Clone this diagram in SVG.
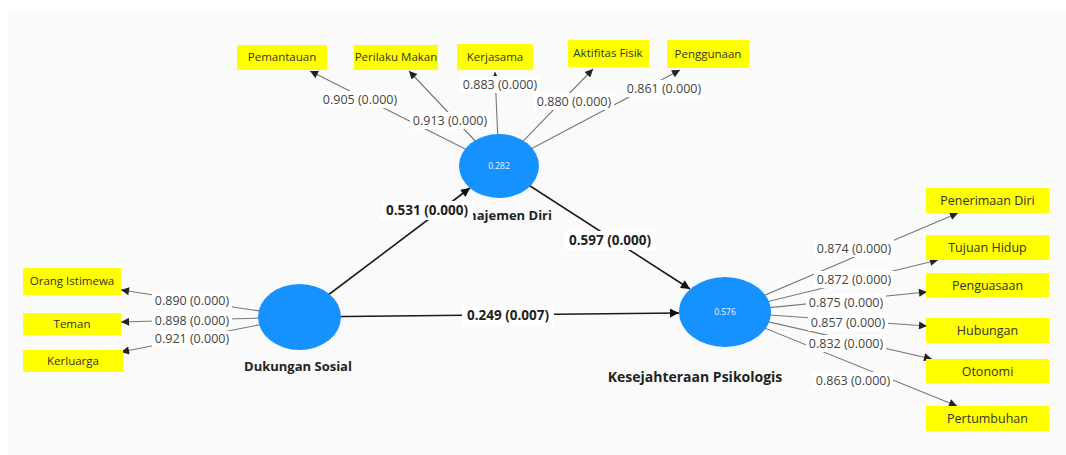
<svg xmlns="http://www.w3.org/2000/svg" width="1066" height="455" viewBox="0 0 1066 455">
<style>
.ind rect{fill:#ffff00}
.ind text{font-family:"Open Sans","Noto Sans",sans-serif;font-size:11.5px;fill:#333;text-anchor:middle}
.ind .lg{font-size:12.5px}
.lv ellipse{fill:#1592fd}
.lv .r2{font-family:"Open Sans","Noto Sans",sans-serif;font-size:8.5px;fill:#e8f2ff;text-anchor:middle}
.lv .nm{font-family:"Open Sans","Noto Sans",sans-serif;font-size:13px;font-weight:bold;fill:#222;text-anchor:middle}
.il{stroke:#777;stroke-width:1.1;fill:none;marker-end:url(#ah)}
.sl{stroke:#1a1a1a;stroke-width:1.6;fill:none;marker-end:url(#as)}
.lb rect{fill:#fff}
.lb text{font-family:"Open Sans","Noto Sans",sans-serif;font-size:12.5px;fill:#444;text-anchor:middle}
.lb .b{font-weight:bold;fill:#222;font-size:13.5px}
</style>
<defs>
<marker id="ah" viewBox="0 0 10 10" refX="10" refY="5" markerWidth="9" markerHeight="8" markerUnits="userSpaceOnUse" orient="auto"><path d="M0,0 L10,5 L0,10 z" fill="#222"/></marker>
<marker id="as" viewBox="0 0 10 10" refX="10" refY="5" markerWidth="11" markerHeight="9" markerUnits="userSpaceOnUse" orient="auto"><path d="M0,0 L10,5 L0,10 z" fill="#111"/></marker>
</defs>
<rect x="0" y="0" width="1066" height="455" fill="#fff"/>
<rect x="8" y="9" width="1058" height="446" fill="#fafafa"/>
<g id="connectors">
<line class="il" x1="499" y1="166" x2="310" y2="71"/>
<line class="il" x1="499" y1="166" x2="409" y2="71"/>
<line class="il" x1="499" y1="166" x2="495" y2="72"/>
<line class="il" x1="499" y1="166" x2="593" y2="69"/>
<line class="il" x1="499" y1="166" x2="680" y2="70"/>
<line class="il" x1="299" y1="317" x2="121" y2="290"/>
<line class="il" x1="299" y1="317" x2="121" y2="322"/>
<line class="il" x1="299" y1="317" x2="121" y2="352"/>
<line class="il" x1="725" y1="312" x2="958" y2="213"/>
<line class="il" x1="725" y1="312" x2="938" y2="260"/>
<line class="il" x1="725" y1="312" x2="927" y2="292"/>
<line class="il" x1="725" y1="312" x2="927" y2="326"/>
<line class="il" x1="725" y1="312" x2="932" y2="359"/>
<line class="il" x1="725" y1="312" x2="957" y2="406"/>
<line class="sl" x1="299" y1="317" x2="470" y2="188"/>
<line class="sl" x1="499" y1="166" x2="690" y2="289"/>
<line class="sl" x1="299" y1="317" x2="679" y2="313"/>
</g>
<g id="ind-pemantauan" class="ind"><rect x="237" y="45" width="90" height="25"/><text x="282" y="61">Pemantauan</text></g>
<g id="ind-perilaku-makan" class="ind"><rect x="354" y="45" width="84" height="25"/><text x="396" y="61">Perilaku Makan</text></g>
<g id="ind-kerjasama" class="ind"><rect x="457" y="44" width="76" height="26"/><text x="495" y="61">Kerjasama</text></g>
<g id="ind-aktifitas-fisik" class="ind"><rect x="568" y="40" width="81" height="27"/><text x="608" y="57">Aktifitas Fisik</text></g>
<g id="ind-penggunaan" class="ind"><rect x="667" y="40" width="82" height="28"/><text x="708" y="58">Penggunaan</text></g>
<g id="ind-orang-istimewa" class="ind"><rect x="23" y="268" width="98" height="27"/><text x="72" y="285">Orang Istimewa</text></g>
<g id="ind-teman" class="ind"><rect x="23" y="313" width="98" height="22"/><text x="72" y="328">Teman</text></g>
<g id="ind-kerluarga" class="ind"><rect x="23" y="350" width="100" height="22"/><text x="73" y="365">Kerluarga</text></g>
<g id="ind-penerimaan-diri" class="ind"><rect x="926" y="188" width="123" height="25"/><text class="lg" x="987.5" y="205">Penerimaan Diri</text></g>
<g id="ind-tujuan-hidup" class="ind"><rect x="926" y="235" width="123" height="25"/><text class="lg" x="987.5" y="252">Tujuan Hidup</text></g>
<g id="ind-penguasaan" class="ind"><rect x="926" y="273" width="123" height="24"/><text class="lg" x="987.5" y="289.5">Penguasaan</text></g>
<g id="ind-hubungan" class="ind"><rect x="926" y="318" width="123" height="25"/><text class="lg" x="987.5" y="335">Hubungan</text></g>
<g id="ind-otonomi" class="ind"><rect x="926" y="359" width="123" height="24"/><text class="lg" x="987.5" y="375.5">Otonomi</text></g>
<g id="ind-pertumbuhan" class="ind"><rect x="926" y="406" width="123" height="25"/><text class="lg" x="987.5" y="423">Pertumbuhan</text></g>
<g id="lv-manajemen-diri" class="lv"><ellipse cx="499" cy="166" rx="40" ry="32"/><text class="r2" x="499" y="169">0.282</text><text class="nm" x="500" y="220">Manajemen Diri</text></g>
<g id="lv-dukungan-sosial" class="lv"><ellipse cx="299.5" cy="317" rx="41.5" ry="33"/><text class="nm" x="298" y="371">Dukungan Sosial</text></g>
<g id="lv-kesejahteraan-psikologis" class="lv"><ellipse cx="725" cy="312" rx="46" ry="35"/><text class="r2" x="725" y="315">0.576</text><text class="nm" x="695" y="382" style="font-size:14px">Kesejahteraan Psikologis</text></g>
<g id="edge-labels" class="lb">
<rect x="320" y="91" width="80" height="17"/><text x="360" y="104">0.905 (0.000)</text>
<rect x="410" y="112" width="80" height="17"/><text x="450" y="125">0.913 (0.000)</text>
<rect x="460" y="76" width="80" height="17"/><text x="500" y="89">0.883 (0.000)</text>
<rect x="534" y="93" width="80" height="17"/><text x="574" y="106">0.880 (0.000)</text>
<rect x="624" y="80" width="80" height="17"/><text x="664" y="93">0.861 (0.000)</text>
<rect x="152" y="293" width="80" height="16"/><text x="192" y="305">0.890 (0.000)</text>
<rect x="152" y="313" width="80" height="16"/><text x="192" y="325">0.898 (0.000)</text>
<rect x="152" y="331" width="80" height="16"/><text x="192" y="343">0.921 (0.000)</text>
<rect x="814" y="240" width="80" height="17"/><text x="854" y="253">0.874 (0.000)</text>
<rect x="814" y="271" width="80" height="17"/><text x="854" y="284">0.872 (0.000)</text>
<rect x="806" y="294" width="80" height="17"/><text x="846" y="307">0.875 (0.000)</text>
<rect x="808" y="314" width="80" height="17"/><text x="848" y="327">0.857 (0.000)</text>
<rect x="806" y="335" width="80" height="17"/><text x="846" y="348">0.832 (0.000)</text>
<rect x="813" y="372" width="80" height="17"/><text x="853" y="385">0.863 (0.000)</text>
<rect x="381" y="201" width="92" height="19"/><text class="b" x="427" y="215">0.531 (0.000)</text>
<rect x="564" y="231" width="92" height="19"/><text class="b" x="610" y="245">0.597 (0.000)</text>
<rect x="462" y="306" width="92" height="19"/><text class="b" x="508" y="320">0.249 (0.007)</text>
</g>
</svg>
